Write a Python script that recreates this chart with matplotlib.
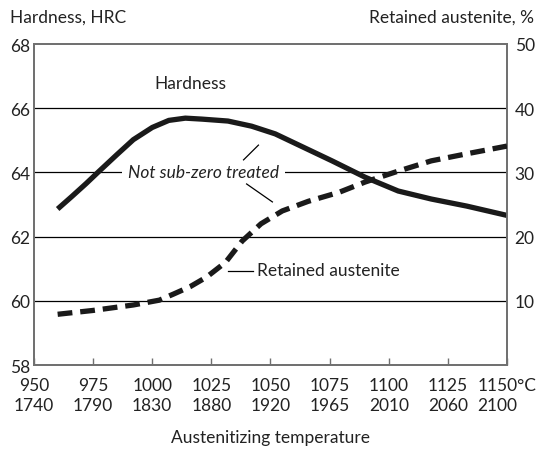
import matplotlib
matplotlib.use('Agg')
import matplotlib.pyplot as plt

plt.rcParams['font.family'] = ['Lato', 'DejaVu Sans']

# hardness curve (HRC) vs austenitizing temperature (°C)
hard_t = [960, 966, 972, 977, 985, 992, 1000, 1007, 1014, 1021, 1032, 1042, 1052, 1062,
          1076, 1090, 1104, 1118, 1133, 1150]
hard_v = [62.86, 63.25, 63.65, 64.0, 64.55, 65.02, 65.4, 65.62, 65.69, 65.66, 65.6, 65.44,
          65.2, 64.85, 64.36, 63.85, 63.42, 63.17, 62.95, 62.66]

# retained austenite (%)
aust_t = [960, 975, 992, 1003, 1009, 1016, 1023, 1031, 1038, 1046, 1055, 1066, 1079,
          1090, 1104, 1118, 1133, 1150]
aust_v = [7.9, 8.5, 9.35, 10.1, 11.05, 12.2, 13.7, 16.0, 19.3, 22.0, 24.0, 25.5, 26.9,
          28.5, 30.2, 31.8, 32.9, 34.1]

x_ticks = [950, 975, 1000, 1025, 1050, 1075, 1100, 1125, 1150]
x_labels = ['950\n1740', '975\n1790', '1000\n1830', '1025\n1880', '1050\n1920',
            '1075\n1965', '1100\n2010', '1125\n2060', '1150°C\n2100']
left_ticks = [58, 60, 62, 64, 66, 68]
right_ticks = [10, 20, 30, 40, 50]

fs = 12.5
txt_col = '#222222'
spine_col = '#707070'

fig = plt.figure(figsize=(5.37, 4.6), dpi=100)
ax = fig.add_axes([34 / 537, 94 / 460, 473 / 537, 321 / 460])
ax2 = ax.twinx()

ax.set_xlim(950, 1150)
ax.set_ylim(58, 68)
ax2.set_ylim(0, 50)

for a in (ax, ax2):
    for s in a.spines.values():
        s.set_color(spine_col)
        s.set_linewidth(1.3)

# grid lines
for g in [60, 62, 64, 66]:
    ax.axhline(g, color='black', lw=0.9, zorder=1)

ax.plot(hard_t, hard_v, color='#1a1a1a', lw=3.8, solid_capstyle='butt', zorder=4)
ax2.plot(aust_t, aust_v, color='#1a1a1a', lw=3.8, dashes=(2.8, 1.5),
         dash_capstyle='butt', zorder=4)

ax.set_xticks(x_ticks)
ax.set_xticklabels(x_labels, fontsize=fs, color=txt_col, linespacing=1.3)
ax.tick_params(axis='x', direction='in', length=5, width=1, color=spine_col, pad=9)
ax.get_xticklabels()[-1].set_multialignment('left')

ax.set_yticks(left_ticks)
ax.set_yticklabels([str(v) for v in left_ticks], fontsize=fs, color=txt_col)
ax.tick_params(axis='y', length=0, pad=3)
ax2.set_yticks(right_ticks)
ax2.set_yticklabels([str(v) for v in right_ticks], fontsize=fs, color=txt_col)
ax2.tick_params(axis='y', length=0, pad=5.5)

ax.set_xlabel('Austenitizing temperature', fontsize=fs, color=txt_col, labelpad=11)

fig.text(10 / 537, 1 - 18 / 460, 'Hardness, HRC', fontsize=fs, color=txt_col,
         ha='left', va='center')
fig.text(534 / 537, 1 - 18 / 460, 'Retained austenite, %', fontsize=fs,
         color=txt_col, ha='right', va='center')

# annotations
ax.text(1001, 66.79, 'Hardness', fontsize=fs, color=txt_col, ha='left', va='center')
ax.text(1021.7, 64.0, 'Not sub-zero treated', fontsize=fs, style='italic',
        color=txt_col, ha='center', va='center', zorder=3,
        bbox=dict(facecolor='white', edgecolor='none', pad=4))
ax.plot([1038.6, 1044.9], [64.39, 64.85], color='black', lw=0.9, zorder=3)
ax.plot([1039.9, 1050.8], [63.64, 63.08], color='black', lw=0.9, zorder=3)
ax.text(1044.5, 60.96, 'Retained austenite', fontsize=fs, color=txt_col,
        ha='left', va='center')
ax.plot([1031.9, 1042.5], [60.93, 60.93], color='black', lw=0.9, zorder=3)

fig.savefig('out.png', dpi=100)
